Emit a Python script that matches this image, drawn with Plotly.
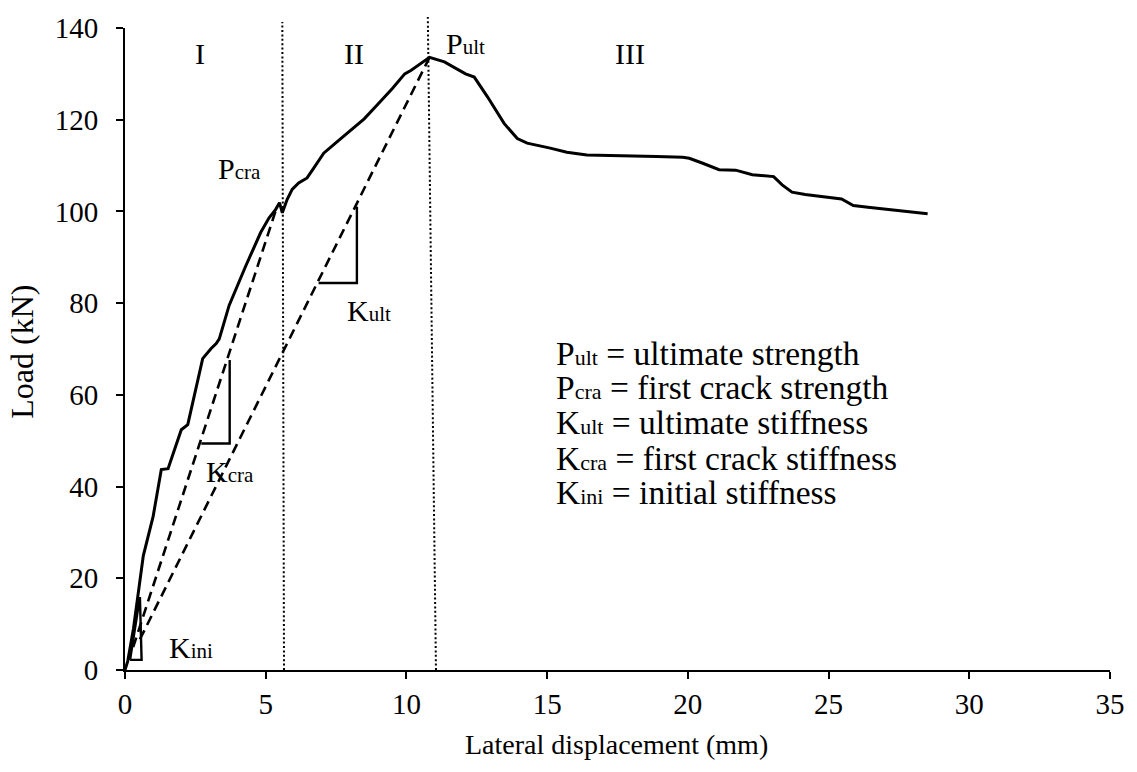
import plotly.graph_objects as go

# ---------------- data ----------------
disp = [0.0, 0.1, 0.3, 0.5, 0.65, 1.0, 1.29, 1.53, 2.0, 2.23, 2.41, 2.59, 2.76, 3.06, 3.24,
        3.35, 3.70, 4.29, 4.82, 5.12, 5.35, 5.49, 5.59, 5.76, 5.94, 6.17, 6.47, 6.70, 6.82,
        7.06, 7.5, 8.0, 8.5, 9.0, 9.5, 9.94, 10.17, 10.82, 11.35, 12.1, 12.41, 12.88, 13.47,
        13.94, 14.29, 15.11, 15.70, 16.41, 17.47, 18.88, 19.82, 20.05, 20.53, 21.11, 21.7,
        22.29, 23.05, 23.35, 23.7, 24.17, 25.46, 25.88, 26.4, 28.52]
load = [0.0, 2.0, 9.0, 18.0, 24.9, 33.5, 43.7, 43.9, 52.4, 53.5, 58.5, 62.9, 67.9, 70.1, 71.2,
        72.2, 79.5, 88.1, 95.4, 98.6, 100.4, 101.9, 99.7, 102.6, 104.8, 106.2, 107.3, 109.4, 110.5,
        112.7, 115.0, 117.5, 120.2, 123.5, 126.8, 130.0, 130.8, 133.6, 132.6, 130.0, 129.3, 125.0, 119.2,
        115.9, 114.9, 113.8, 112.9, 112.3, 112.2, 112.0, 111.8, 111.6, 110.5, 109.1, 109.0,
        108.0, 107.6, 105.8, 104.2, 103.7, 102.7, 101.3, 100.9, 99.5]

# secant stiffness lines (dashed)
kcra_x = [0.29, 5.40]
kcra_y = [5.0, 101.0]
kult_x = [0.53, 10.82]
kult_y = [6.7, 133.6]

# stiffness triangles
kini_tri_x = [0.18, 0.53, 0.59, 0.18]
kini_tri_y = [2.2, 15.9, 2.2, 2.2]
kcra_tri_x = [2.71, 3.72, 3.72]
kcra_tri_y = [49.4, 49.4, 67.6]
kult_tri_x = [6.88, 8.24, 8.24]
kult_tri_y = [84.4, 84.4, 101.0]

# stage boundaries (dotted): bottom x, top x, top y
bound_x_bottom = [5.65, 11.05]
bound_x_top = [5.59, 10.76]
bound_y_top = [141.3, 142.4]

x_ticks = [0, 5, 10, 15, 20, 25, 30, 35]
y_ticks = [0, 20, 40, 60, 80, 100, 120, 140]
X_MAX = 35
Y_MAX = 140

stage_labels = ["I", "II", "III"]
stage_x = [2.65, 8.12, 17.95]
stage_y = 134.4

point_labels = [("P", "ult", 12.1, 136.6), ("P", "cra", 4.06, 109.4),
                ("K", "ult", 8.68, 78.5), ("K", "cra", 3.74, 43.3), ("K", "ini", 2.36, 5.0)]

legend_lines = [("P", "ult", "ultimate strength"),
                ("P", "cra", "first crack strength"),
                ("K", "ult", "ultimate stiffness"),
                ("K", "cra", "first crack stiffness"),
                ("K", "ini", "initial stiffness")]
legend_x = 15.24
legend_y = [69.1, 61.5, 53.9, 46.2, 38.6]

FONT = "Liberation Serif, Times New Roman, serif"
BLACK = "#000000"

fig = go.Figure()

fig.add_trace(go.Scatter(x=disp, y=load, mode="lines",
                         line=dict(color=BLACK, width=3), hoverinfo="skip"))
for xs, ys in [(kcra_x, kcra_y), (kult_x, kult_y)]:
    fig.add_trace(go.Scatter(x=xs, y=ys, mode="lines",
                             line=dict(color=BLACK, width=2.6, dash="10px,6px"), hoverinfo="skip"))
for xs, ys in [(kini_tri_x, kini_tri_y), (kcra_tri_x, kcra_tri_y), (kult_tri_x, kult_tri_y)]:
    fig.add_trace(go.Scatter(x=xs, y=ys, mode="lines",
                             line=dict(color=BLACK, width=2.4), hoverinfo="skip"))

for xb, xt, yt in zip(bound_x_bottom, bound_x_top, bound_y_top):
    fig.add_shape(type="line", xref="x", yref="paper", x0=xb, x1=xt, y0=0, y1=yt / Y_MAX,
                  line=dict(color=BLACK, width=2, dash="2px,2.4px"), layer="above")

for s, x in zip(stage_labels, stage_x):
    fig.add_annotation(x=x, y=stage_y, text=s, showarrow=False,
                       font=dict(family=FONT, size=30, color=BLACK))

for big, sub, x, y in point_labels:
    fig.add_annotation(x=x, y=y, showarrow=False,
                       text=f'{big}<span style="font-size:21px">{sub}</span>',
                       font=dict(family=FONT, size=30, color=BLACK))

for (big, sub, desc), y in zip(legend_lines, legend_y):
    fig.add_annotation(x=legend_x, y=y, xanchor="left", yanchor="middle", showarrow=False,
                       text=f'{big}<span style="font-size:22px">{sub}</span> = {desc}',
                       font=dict(family=FONT, size=33.5, color=BLACK))

fig.add_annotation(xref="paper", yref="paper", x=-0.104, y=0.495, xanchor="center",
                   yanchor="middle", text="Load (kN)", textangle=-90, showarrow=False,
                   font=dict(family=FONT, size=32, color=BLACK))
fig.add_annotation(xref="paper", yref="paper", x=0.499, y=-0.116, xanchor="center",
                   yanchor="middle", text="Lateral displacement (mm)", showarrow=False,
                   font=dict(family=FONT, size=28, color=BLACK))

axis_common = dict(showgrid=False, zeroline=False, showline=True, linecolor=BLACK, linewidth=2,
                   ticks="outside", ticklen=7, tickwidth=2, tickcolor=BLACK,
                   tickfont=dict(family=FONT, size=29, color=BLACK), fixedrange=True)
fig.update_xaxes(range=[0, X_MAX], tickvals=x_ticks, **axis_common)
fig.update_yaxes(range=[0, Y_MAX], tickvals=y_ticks, ticklabelstandoff=12, **axis_common)

fig.update_layout(width=1137, height=772, showlegend=False,
                  margin=dict(l=125, r=20, t=24, b=102),
                  paper_bgcolor="white", plot_bgcolor="white")

fig.write_html("out.html")
